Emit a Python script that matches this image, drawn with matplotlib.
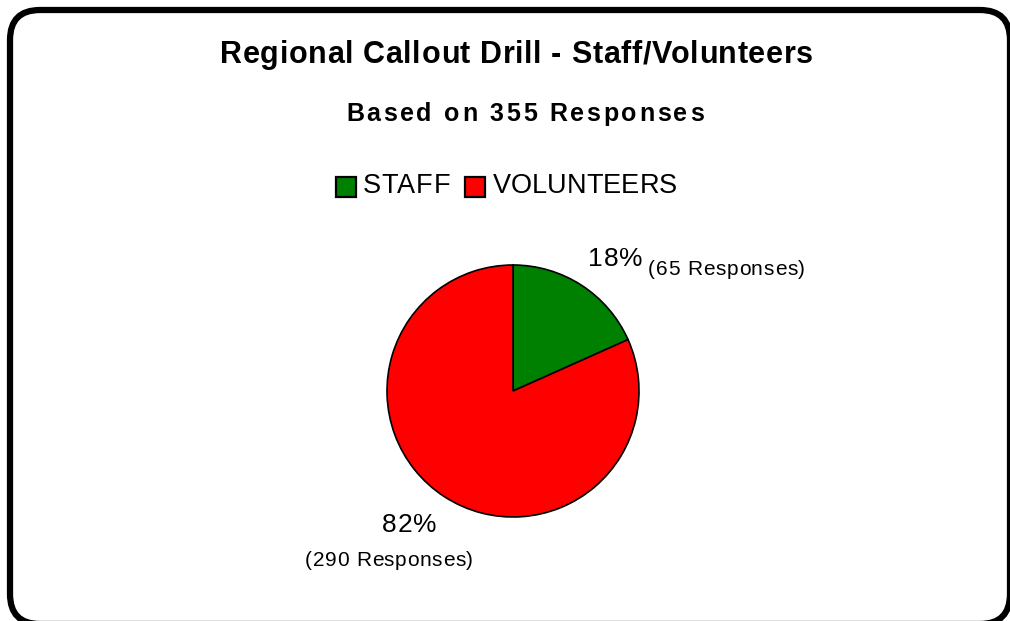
import matplotlib
matplotlib.use("Agg")
import matplotlib.pyplot as plt
from matplotlib.patches import FancyBboxPatch, Rectangle
from matplotlib.font_manager import FontProperties

FAMILY = ['Liberation Sans', 'DejaVu Sans']
plt.rcParams['font.family'] = FAMILY

title = "Regional Callout Drill - Staff/Volunteers"
subtitle = "Based on 355 Responses"
categories = ["STAFF", "VOLUNTEERS"]
responses = [65, 290]
percents = ["18%", "82%"]
colors = ["#008000", "#FF0000"]

W, H = 1010, 621
fig = plt.figure(figsize=(W / 100, H / 100), dpi=100)
ax = fig.add_axes([0, 0, 1, 1])
ax.set_xlim(0, W)
ax.set_ylim(0, H)
ax.set_aspect('equal')
ax.axis('off')
renderer = fig.canvas.get_renderer()


def Y(y):
    return H - y


def tracked(x0, x1, ybase, s, size, weight='normal'):
    """Draw text with letter spacing so that its ink spans x0..x1 (pixels)."""
    fp = FontProperties(family=FAMILY, size=size, weight=weight)

    def w(t):
        return renderer.get_text_width_height_descent(t, fp, ismath=False)[0]

    total = w(s)
    n = len(s)
    t = (x1 - x0 - total) / (n - 1) if n > 1 else 0
    for i, ch in enumerate(s):
        if ch == ' ':
            continue
        left = w(s[:i + 1]) - w(ch)
        ax.text(x0 + left + i * t, Y(ybase), ch, ha='left', va='baseline',
                fontproperties=fp)


# rounded border
box = FancyBboxPatch((10, Y(624)), 1000, 614, boxstyle="round,pad=0,rounding_size=30",
                     facecolor='white', edgecolor='black', linewidth=4.5, zorder=0)
ax.add_patch(box)

ax.pie(responses, colors=colors, startangle=90, counterclock=False,
       center=(513, Y(391)), radius=126,
       wedgeprops=dict(edgecolor='black', linewidth=1.2))
ax.set_xlim(0, W)
ax.set_ylim(0, H)

tracked(220, 813, 63, title, 22, 'bold')
tracked(346, 704, 121, subtitle, 18, 'bold')

# legend
leg_x = [336, 465]
text_span = [(363, 450), (493, 677)]
for cx, (tx0, tx1), c, lab in zip(leg_x, text_span, colors, categories):
    ax.add_patch(Rectangle((cx, Y(197)), 20, 20, facecolor=c, edgecolor='black', linewidth=1.6))
    tracked(tx0, tx1, 193, lab, 19.5)

# data labels
tracked(588, 643, 266, percents[0], 19)
tracked(648, 805, 275, f"({responses[0]} Responses)", 15)
tracked(382, 437, 532, percents[1], 19)
tracked(305, 473, 566, f"({responses[1]} Responses)", 15)

fig.savefig("out.png", dpi=100)
